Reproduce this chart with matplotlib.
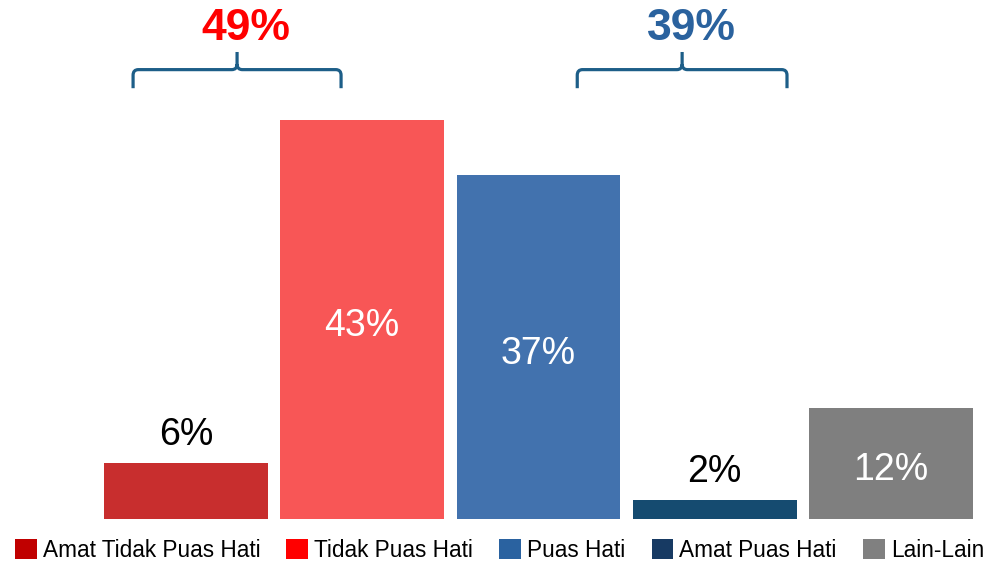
import numpy as np
import matplotlib.pyplot as plt
from matplotlib.patches import Patch, PathPatch
from matplotlib.path import Path

plt.rcParams['font.family'] = ['Liberation Sans', 'DejaVu Sans']

# data
categories = ["Amat Tidak Puas Hati", "Tidak Puas Hati", "Puas Hati", "Amat Puas Hati", "Lain-Lain"]
values = [6, 43, 37, 2, 12]
bar_colors = ["#C82E2E", "#F85656", "#4272AE", "#154B70", "#7F7F7F"]
legend_colors = ["#C00000", "#FF0000", "#2A62A0", "#173A63", "#808080"]
label_colors = ["black", "white", "white", "black", "white"]
label_inside = [False, True, True, False, True]

# grouped totals shown above braces (brace ends in bar-index units)
brace_spans = [(-0.3, 0.88), (2.22, 3.41)]
group_labels = ["49%", "39%"]
group_colors = ["#FF0000", "#2A629E"]
brace_color = "#1D5E88"

fig = plt.figure(figsize=(9.86, 5.65), dpi=100)
ax = fig.add_axes([0, 0, 1, 1])

x = np.arange(len(values))
bars = ax.bar(x, values, width=0.93, color=bar_colors)

ax.set_xlim(-1.055, 4.539)
ax.set_ylim(-4.96, 55.9)
ax.axis('off')

for b, v, c, inside in zip(bars, values, label_colors, label_inside):
    cx = b.get_x() + b.get_width() / 2
    if inside:
        ax.annotate(f"{v}%", (cx, v / 2), xytext=(0, -5), textcoords='offset points',
                    ha='center', va='center', fontsize=27, color=c)
    else:
        ax.annotate(f"{v}%", (cx, v), xytext=(0, 7.5), textcoords='offset points',
                    ha='center', va='bottom', fontsize=27, color=c)


def brace(ax, x0, x1, y, tip, nub, rx, ry, color):
    xm = (x0 + x1) / 2
    verts = [(x0, y - tip), (x0, y - ry), (x0, y), (x0 + rx, y),
             (xm - rx, y), (xm, y), (xm, y + ry), (xm, y + nub),
             (xm, y + ry), (xm, y), (xm + rx, y),
             (x1 - rx, y), (x1, y), (x1, y - ry), (x1, y - tip)]
    codes = [Path.MOVETO, Path.LINETO, Path.CURVE3, Path.CURVE3,
             Path.LINETO, Path.CURVE3, Path.CURVE3, Path.LINETO,
             Path.MOVETO, Path.CURVE3, Path.CURVE3,
             Path.LINETO, Path.CURVE3, Path.CURVE3, Path.LINETO]
    ax.add_patch(PathPatch(Path(verts, codes), fill=False, lw=2.3,
                           edgecolor=color, capstyle='butt', joinstyle='round'))
    return xm


for (x0, x1), lab, col in zip(brace_spans, group_labels, group_colors):
    xm = brace(ax, x0, x1, 48.4, 2.0, 1.9, 0.03, 0.6, brace_color)
    ax.text(xm + 0.05, 52.8, lab, ha='center', va='center', fontsize=32,
            fontweight='bold', color=col)

handles = [Patch(facecolor=c, edgecolor='none') for c in legend_colors]
fig.legend(handles, categories, loc='lower left', bbox_to_anchor=(0.015, 0.006),
           ncol=5, frameon=False, fontsize=16.3, handlelength=0.97, handleheight=0.97,
           handletextpad=0.265, columnspacing=1.15, borderpad=0, borderaxespad=0)

fig.savefig("out.png", dpi=100)
